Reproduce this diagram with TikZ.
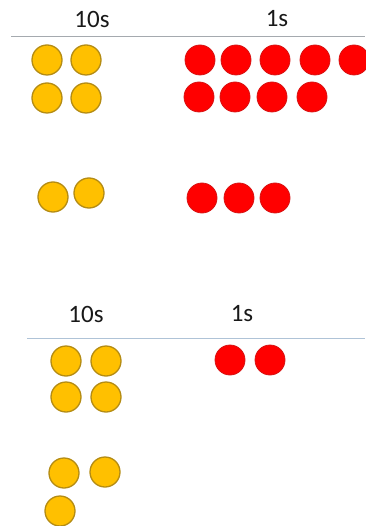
\documentclass[tikz,border=0pt]{standalone}
\usepackage{fontspec}
\setmainfont{Carlito}
\usepackage{tikz}
\usetikzlibrary{positioning}
\definecolor{tens}{RGB}{255,192,0}
\definecolor{tensedge}{RGB}{180,140,20}
\definecolor{ones}{RGB}{255,0,0}
\definecolor{onesedge}{RGB}{215,20,20}
\definecolor{rule1}{RGB}{165,170,175}
\definecolor{rule2}{RGB}{175,195,215}

\begin{document}
\begin{tikzpicture}[
    x=1pt, y=-1pt,
    ten/.style={circle, draw=tensedge, fill=tens, line width=1.3pt, minimum size=30pt, inner sep=0pt},
    one/.style={circle, draw=onesedge, fill=ones, line width=0.8pt, minimum size=30pt, inner sep=0pt},
    head/.style={font=\fontsize{25}{29}\selectfont, text=black!90}
]
    \useasboundingbox (0,0) rectangle (365,526);

    % Top table: headings and rule
    \node[head] (tenA) at (92,19) {10s};
    \node[head] (oneA) at (277,19) {1s};
    \coordinate (ruleAl) at (11,37);
    \coordinate (ruleAr) at (365,37);
    \draw[rule1, line width=1pt] (ruleAl) -- (ruleAr);

    % Top table: tens
    \node[ten] (ta1) at (47,60) {};
    \node[ten] (ta2) at (86,60) {};
    \node[ten] (ta3) at (47,98) {};
    \node[ten] (ta4) at (86,98) {};

    % Top table: ones
    \foreach \x [count=\i] in {200,236,275,315,354}
        \node[one] (oa\i) at (\x,60) {};
    \foreach \x [count=\i] in {199,235,272,312}
        \node[one] (ob\i) at (\x,97) {};

    % Regrouped
    \node[ten] (tb1) at (53,197) {};
    \node[ten] (tb2) at (89,193) {};
    \foreach \x [count=\i] in {202,239,275}
        \node[one] (oc\i) at (\x,198) {};

    % Bottom table: headings and rule
    \node[head] (tenB) at (86,314) {10s};
    \node[head] (oneB) at (242,314) {1s};
    \coordinate (ruleBl) at (27,338);
    \coordinate (ruleBr) at (365,338);
    \draw[rule2, line width=1pt] (ruleBl) -- (ruleBr);

    % Bottom table: tens
    \node[ten] (td1) at (66,361) {};
    \node[ten] (td2) at (106,361) {};
    \node[ten] (td3) at (66,397) {};
    \node[ten] (td4) at (106,397) {};
    \node[ten] (te1) at (64,473) {};
    \node[ten] (te2) at (105,472) {};
    \node[ten] (te3) at (60,511) {};

    % Bottom table: ones
    \node[one] (od1) at (230,360) {};
    \node[one] (od2) at (270,360) {};
\end{tikzpicture}
\end{document}
